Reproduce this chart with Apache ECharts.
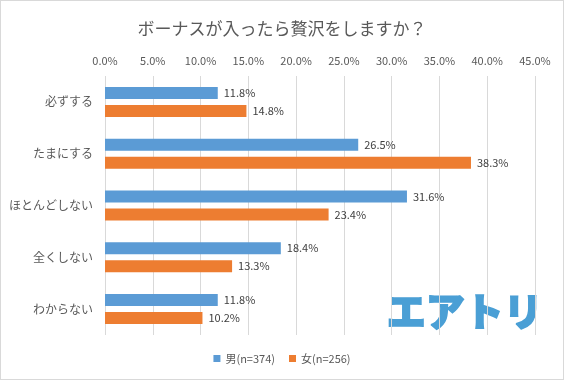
<!DOCTYPE html>
<html><head><meta charset="utf-8">
<script src="https://cdn.jsdelivr.net/npm/echarts@6/dist/echarts.min.js"></script>
<style>html,body{margin:0;padding:0;background:#fff}#c{width:564px;height:380px;box-sizing:border-box;border:1px solid #d9d9d9}</style>
</head><body><div id="c"></div>
<script>
const categories = ['必ずする','たまにする','ほとんどしない','全くしない','わからない'];
const seriesNames = ['男(n=374)','女(n=256)'];
const male = [11.8, 26.5, 31.6, 18.4, 11.8];
const female = [14.8, 38.3, 23.4, 13.3, 10.2];
const font = '"Noto Sans CJK JP", "Noto Sans", sans-serif';
const chart = echarts.init(document.getElementById('c'));
chart.setOption({
  animation:false,
  textStyle:{fontFamily:font},
  title:{text:'ボーナスが入ったら贅沢をしますか？',left:'center',top:14,
    textStyle:{fontSize:17,fontWeight:'normal',color:'#595959',fontFamily:font}},
  grid:{left:104,right:28,top:75,bottom:44},
  legend:{bottom:10,left:'center',itemWidth:7,itemHeight:7,itemGap:14,icon:'rect',
    textStyle:{fontSize:11,color:'#595959'}},
  xAxis:{type:'value',position:'top',min:0,max:45,interval:5,
    axisLine:{show:false},axisTick:{show:false},
    axisLabel:{formatter:v=>v.toFixed(1)+'%',fontSize:11,color:'#595959',margin:10},
    splitLine:{lineStyle:{color:'#d9d9d9'}}},
  yAxis:{type:'category',data:categories,inverse:true,
    axisLine:{show:false},axisTick:{show:false},
    axisLabel:{fontSize:12,color:'#595959',margin:12}},
  series:[
    {name:seriesNames[0],type:'bar',data:male,barWidth:12,barGap:'50%',
     itemStyle:{color:'#5B9BD5'},
     label:{show:true,position:'right',formatter:p=>p.value.toFixed(1)+'%',fontSize:11,color:'#404040',distance:6}},
    {name:seriesNames[1],type:'bar',data:female,barWidth:12,barGap:'50%',
     itemStyle:{color:'#ED7D31'},
     label:{show:true,position:'right',formatter:p=>p.value.toFixed(1)+'%',fontSize:11,color:'#404040',distance:6}}
  ],
  graphic:[{type:'text',left:385,top:290,
    style:{text:'エアトリ',fontSize:39,fontWeight:900,fill:'#4A9FD5',fontFamily:font,
      stroke:'#4A9FD5',lineWidth:1.5}}]
});
</script></body></html>
